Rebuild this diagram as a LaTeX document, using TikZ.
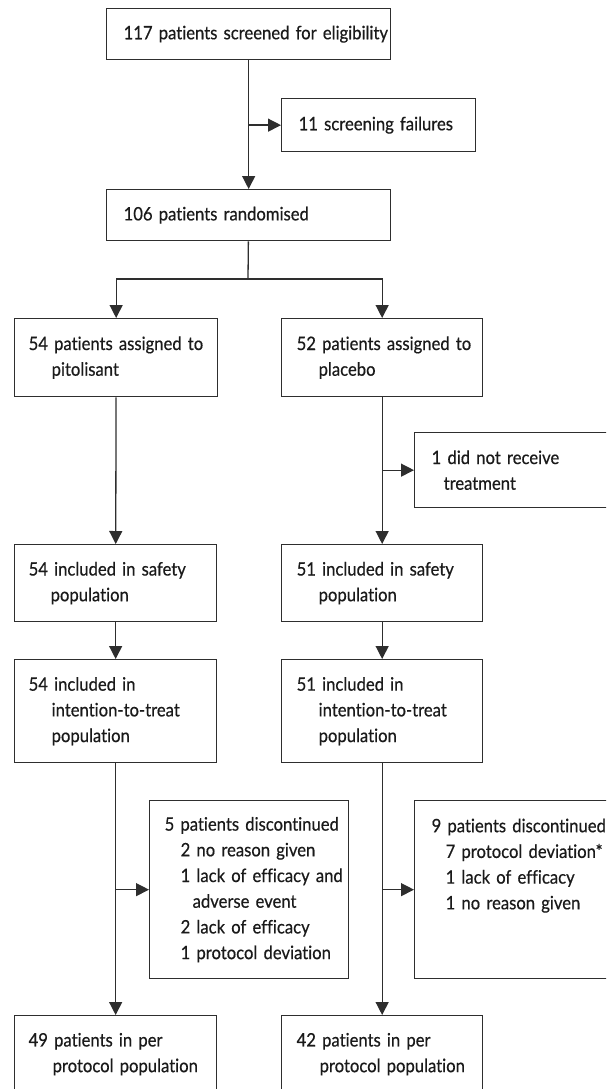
\documentclass[tikz,border=0pt]{standalone}
\usepackage{fontspec}
\setmainfont[FakeStretch=0.9, FakeBold=0.5, Ligatures=NoCommon]{Lato}
\usetikzlibrary{arrows.meta, positioning}
\definecolor{linegray}{HTML}{2E2E2E}
\definecolor{textgray}{HTML}{1A1A1A}
\newcommand{\ind}[1]{\hspace*{#1pt}}
\hyphenpenalty=10000
\exhyphenpenalty=10000

\begin{document}
\begin{tikzpicture}[x=1pt, y=-1pt,
  box/.style={draw=linegray, line width=1.3pt, anchor=north west, inner xsep=0pt,
    inner ysep=0pt, align=left, text=textgray,
    font=\fontsize{18.5}{25.7}\selectfont},
  arr/.style={-{Triangle[length=13pt,width=13pt]}, line width=1.3pt, draw=linegray},
  link/.style={line width=1.3pt, draw=linegray}]
\useasboundingbox (0,0) rectangle (606,1089);
\clip (0,0) rectangle (606,1089);

% Screening and randomisation
\node [box, text width=284pt, minimum height=51pt] (screen) at (106,8)
  {\ind{17}117 patients screened for eligibility};
\node [box, text width=194pt, minimum height=53pt] (fail) at (281,98)
  {\ind{17}11 screening failures};
\node [box, text width=284pt, minimum height=51pt] (rand) at (106,189)
  {\ind{17}106 patients randomised};

% Allocation
\node [box, text width=203pt, minimum height=78pt] (pito) at (14,318)
  {\ind{14}54 patients assigned to\\\ind{37}pitolisant};
\node [box, text width=201pt, minimum height=78pt] (plac) at (281,318)
  {\ind{15}52 patients assigned to\\\ind{37}placebo};
\node [box, text width=200pt, minimum height=75pt] (norx) at (414,432)
  {\ind{17}1 did not receive\\\ind{29}treatment};

% Safety and intention-to-treat populations
\node [box, text width=202pt, minimum height=77pt] (safeL) at (14,544)
  {\ind{14}54 included in safety\\\ind{36}population};
\node [box, text width=201pt, minimum height=77pt] (safeR) at (281,544)
  {\ind{15}51 included in safety\\\ind{37}population};
\node [box, text width=202pt, minimum height=103pt] (ittL) at (14,659)
  {\ind{14}54 included in\\\ind{37}intention-to-treat\\\ind{37}population};
\node [box, text width=201pt, minimum height=103pt] (ittR) at (281,659)
  {\ind{15}51 included in\\\ind{37}intention-to-treat\\\ind{37}population};

% Discontinuations
\node [box, text width=199pt, minimum height=178pt] (discL) at (149,800)
  {\ind{15}5 patients discontinued\\\ind{31}2 no reason given\\\ind{31}1 lack of efficacy and\\
   \ind{43}adverse event\\\ind{31}2 lack of efficacy\\\ind{31}1 protocol deviation};
\node [box, text width=200pt, minimum height=178pt] (discR) at (414,800)
  {\ind{17}9 patients discontinued\\\ind{31}7 protocol deviation*\\\ind{31}1 lack of efficacy\\
   \ind{31}1 no reason given\\\mbox{}\\\mbox{}};

% Per protocol populations
\node [box, text width=202pt, minimum height=77pt] (ppL) at (14,1015)
  {\ind{14}49 patients in per\\\ind{38}protocol population};
\node [box, text width=201pt, minimum height=77pt] (ppR) at (281,1015)
  {\ind{15}42 patients in per\\\ind{38}protocol population};

% Arrows
\coordinate (split) at (248,279);
\draw [arr] (screen) -- (rand);
\draw [arr] (screen.south |- fail.west) -- (fail.west);
\draw [link] (rand) -- (split);
\draw [arr] (split) -| (pito.north);
\draw [arr] (split) -| (plac.north);
\draw [arr] (pito) -- (safeL);
\draw [arr] (plac) -- (safeR);
\draw [arr] (plac.south |- norx.west) -- (norx.west);
\draw [arr] (safeL) -- (ittL);
\draw [arr] (safeR) -- (ittR);
\draw [arr] (ittL) -- (ppL);
\draw [arr] (ittR) -- (ppR);
\draw [arr] (ittL.south |- discL.west) -- (discL.west);
\draw [arr] (ittR.south |- discR.west) -- (discR.west);

\end{tikzpicture}
\end{document}
